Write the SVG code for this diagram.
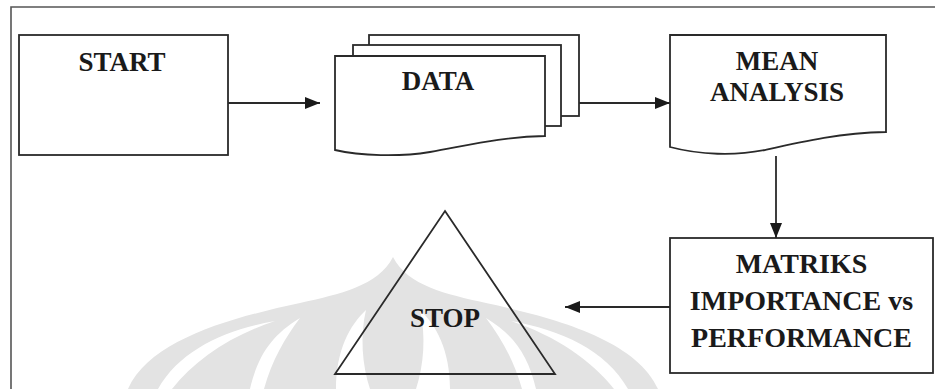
<svg xmlns="http://www.w3.org/2000/svg" width="938" height="389" viewBox="0 0 938 389">
  <style>
    .shape { fill: #ffffff; stroke: #2a2a2a; stroke-width: 1.8; }
    .label { font-weight: bold; font-size: 27px; fill: #1a1a1a; text-anchor: middle; }
    .big { font-size: 28px; }
    .conn { fill: none; stroke: #2a2a2a; stroke-width: 1.8; }
    .wm { fill: #e3e3e3; }
    .wmgap { fill: #ffffff; }
  </style>
  <defs>
    <marker id="arrow" markerWidth="16" markerHeight="14" refX="15" refY="7" orient="auto" markerUnits="userSpaceOnUse">
      <path d="M0,1 L15,7 L0,13 Z" fill="#1a1a1a"/>
    </marker>
  </defs>

  <rect x="0" y="0" width="938" height="389" fill="#ffffff"/>

  <!-- watermark -->
  <g id="watermark">
    <path class="wm" d="M128,389 C150,340 230,318 300,303 C340,294 378,286 393,257 C408,286 446,294 486,303 C556,318 636,340 658,389 Z"/>
    <path class="wmgap" d="M158,389 C180,350 225,330 275,321 C230,336 195,360 172,389 Z"/>
    <path class="wmgap" d="M628,389 C606,350 561,330 511,321 C556,336 591,360 614,389 Z"/>
    <path class="wmgap" d="M250,389 C258,355 272,335 300,318 C285,338 272,360 264,389 Z"/>
    <path class="wmgap" d="M536,389 C528,355 514,335 486,318 C501,338 514,360 522,389 Z"/>
    <path class="wmgap" d="M336,389 C336,350 350,325 366,310 C360,335 362,365 370,389 Z"/>
    <path class="wmgap" d="M450,389 C450,350 436,325 420,310 C426,335 424,365 416,389 Z"/>
  </g>

  <!-- outer frame -->
  <path d="M11,389 V7 H935" fill="none" stroke="#555555" stroke-width="1.6"/>

  <g font-family="'Liberation Serif', Tinos, 'Times New Roman', 'DejaVu Serif', serif">
  <g id="start">
    <rect class="shape" x="19" y="35" width="209" height="120"/>
    <text class="label" x="122" y="71">START</text>
  </g>

  <g id="data">
    <rect class="shape" x="369" y="35" width="210" height="81"/>
    <rect class="shape" x="353" y="45" width="208" height="81"/>
    <path class="shape" d="M335,56 H545 V136 C500,137 470,145 430,152 C400,157 360,156 335,150 Z"/>
    <text class="label" x="438" y="90">DATA</text>
  </g>

  <g id="mean">
    <path class="shape" d="M670,35 H886 V132 C840,133 805,141 765,150 C735,156 700,155 670,147 Z"/>
    <text class="label" x="777" y="70">MEAN</text>
    <text class="label" x="777" y="101">ANALYSIS</text>
  </g>

  <g id="matriks">
    <rect class="shape" x="670" y="238" width="263" height="135"/>
    <text class="label big" x="801.5" y="273">MATRIKS</text>
    <text class="label big" x="801.5" y="310">IMPORTANCE vs</text>
    <text class="label big" x="801.5" y="347">PERFORMANCE</text>
  </g>

  <g id="stop">
    <path d="M445,211 L555,374 L335,374 Z" fill="none" stroke="#2a2a2a" stroke-width="1.8"/>
    <text class="label" x="445" y="327">STOP</text>
  </g>
  </g>

  <g id="connectors">
    <line class="conn" x1="228" y1="103" x2="320" y2="103" marker-end="url(#arrow)"/>
    <line class="conn" x1="579" y1="103" x2="670" y2="103" marker-end="url(#arrow)"/>
    <line class="conn" x1="776" y1="156" x2="776" y2="238" marker-end="url(#arrow)"/>
    <line class="conn" x1="670" y1="307" x2="565" y2="307" marker-end="url(#arrow)"/>
  </g>
</svg>
